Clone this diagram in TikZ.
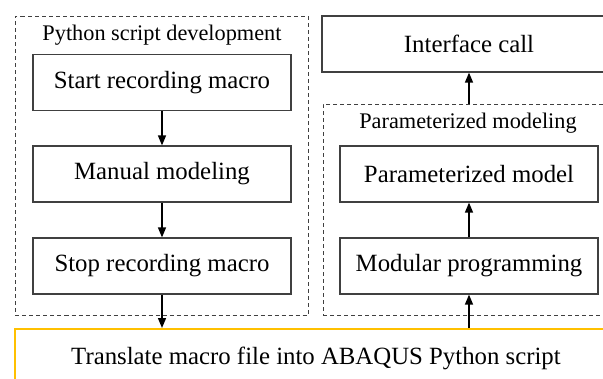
\documentclass[tikz,border=0pt]{standalone}
\usepackage{fontspec}
\setmainfont{Liberation Serif}
\usetikzlibrary{arrows.meta}
\definecolor{boxline}{HTML}{404040}
\definecolor{amber}{HTML}{FFC000}
\begin{document}
\begin{tikzpicture}[x=1bp,y=-1bp,
  stepbox/.style={draw=boxline,line width=1.2bp,minimum width=258bp,minimum height=56bp,
    inner sep=0pt,font=\fontsize{24.8bp}{28bp}\selectfont},
  groupbox/.style={draw=boxline,dashed,dash pattern=on 4bp off 3bp,line width=0.8bp,inner sep=0pt},
  grouptitle/.style={inner sep=0pt,font=\fontsize{22.3bp}{26bp}\selectfont},
  flow/.style={-{Triangle[length=10bp,width=8bp]},line width=1.4bp,black}]
\useasboundingbox (0,0) rectangle (603,378);
\clip (0,0) rectangle (603,378);

% group frames
\node[groupbox,minimum width=292.5bp,minimum height=299bp] (lgroup) at (161.75,165.5) {};
\node[groupbox,minimum width=290bp,minimum height=211bp] (rgroup) at (468,209.5) {};
\node[grouptitle] (ltitle) at (162,35) {Python script development};
\node[grouptitle] (rtitle) at (468,123) {Parameterized modeling};

% left column
\node[stepbox] (start) at (162,82.5) {Start recording macro};
\node[stepbox] (manual) at (162,174) {Manual modeling};
\node[stepbox] (stop) at (162,266) {Stop recording macro};

% right column
\node[stepbox,minimum width=294bp] (iface) at (469,44) {Interface call};
\node[stepbox] (pmodel) at (469,174) {Parameterized model};
\node[stepbox] (modular) at (469,266) {Modular programming};

% translation step
\node[draw=amber,line width=2bp,minimum width=602bp,minimum height=58bp,inner sep=0pt,
  font=\fontsize{24.8bp}{28bp}\selectfont] (translate) at (316,358)
  {Translate macro file into ABAQUS Python script};

% connectors
\draw[flow] (start) -- (manual);
\draw[flow] (manual) -- (stop);
\draw[flow] (stop) -- (stop.south |- translate.north);
\draw[flow] (modular.south |- translate.north) -- (modular);
\draw[flow] (modular) -- (pmodel);
\draw[flow] (iface.south |- rgroup.north) -- (iface);
\end{tikzpicture}
\end{document}
